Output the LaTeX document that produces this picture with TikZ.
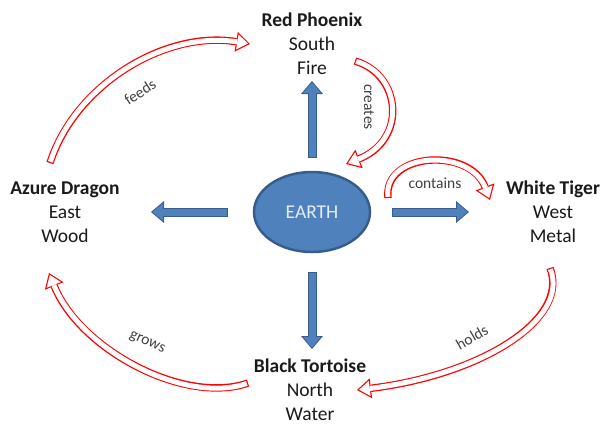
\documentclass[tikz,border=0pt]{standalone}
\usepackage{fontspec}
\setmainfont{Carlito}
\usetikzlibrary{arrows.meta,shapes.geometric}
\definecolor{earthfill}{HTML}{4F81BD}
\definecolor{earthline}{HTML}{385D8A}
\definecolor{txt}{HTML}{1A1A1A}
\definecolor{lbl}{HTML}{404040}
\definecolor{cyclered}{HTML}{FF0000}
\begin{document}
\begin{tikzpicture}[x=1pt,y=-1pt,
  big/.style={font=\fontsize{19.5}{24}\selectfont, text=txt, align=center, inner sep=0pt},
  lab/.style={font=\fontsize{15.5}{18}\selectfont, text=lbl, inner sep=0pt},
  earth/.style={ellipse, draw=earthline, line width=2.5pt, fill=earthfill, minimum width=116pt, minimum height=80pt, inner sep=0pt, text=white!85!earthfill, font=\fontsize{19.5}{24}\selectfont},
  blockarrow/.style={draw=earthfill, line width=7pt, shorten >=1.55pt, shorten <=1pt,
     -{Triangle[width=17.7pt,length=10.45pt,line width=0pt]},
     preaction={draw=earthline, line width=9pt, shorten >=0pt, shorten <=0pt,
     -{Triangle[width=22pt,length=13pt,line width=0pt]}}},
  cyclearrow/.style={draw=white, line width=5pt, shorten <=1.2pt, shorten >=2.1pt,
     -{Triangle[width=15.3pt,length=10.7pt,line width=0pt]},
     preaction={draw=cyclered, line width=7.4pt, shorten <=0pt, shorten >=0pt,
     -{Triangle[width=20pt,length=14pt,line width=0pt]}}}
]
\useasboundingbox (0,0) rectangle (606,424);

% nodes
\node[earth] (earth) at (312,212) {EARTH};
\node[big] (phoenix) at (312,44) {\textbf{Red Phoenix}\\South\\Fire};
\node[big] (dragon) at (65,212) {\textbf{Azure Dragon}\\East\\Wood};
\node[big] (tiger) at (553,212) {\textbf{White Tiger}\\West\\Metal};
\node[big] (tortoise) at (310,390) {\textbf{Black Tortoise}\\North\\Water};

% block arrows
\coordinate (upS) at (312,158);  \coordinate (upE) at (312,81);
\coordinate (lfS) at (228,212);  \coordinate (lfE) at (151,212);
\coordinate (rtS) at (392,212);  \coordinate (rtE) at (469,212);
\coordinate (dnS) at (312,272);  \coordinate (dnE) at (312,349);
\draw[blockarrow] (upS) -- (upE);
\draw[blockarrow] (lfS) -- (lfE);
\draw[blockarrow] (rtS) -- (rtE);
\draw[blockarrow] (dnS) -- (dnE);

% cycle arrows
\coordinate (feedsS) at (50,163);   \coordinate (feedsE) at (250,44);
\coordinate (createsS) at (355,61); \coordinate (createsE) at (346,164);
\coordinate (containsS) at (388,198); \coordinate (containsE) at (490,200);
\coordinate (holdsS) at (550,268);  \coordinate (holdsE) at (357,390);
\coordinate (growsS) at (248,383);  \coordinate (growsE) at (49,273);

\draw[cyclearrow] (feedsS) .. controls (75,85) and (165,30) .. (feedsE);
\draw[cyclearrow] (createsS) .. controls (402,75) and (407,140) .. (createsE);
\draw[cyclearrow] (containsS) .. controls (383,152) and (470,147) .. (containsE);
\draw[cyclearrow] (holdsS) .. controls (570,320) and (480,375) .. (holdsE);
\draw[cyclearrow] (growsS) .. controls (185,405) and (80,350) .. (growsE);

% labels
\node[lab, rotate=33] (lfeeds) at (140,92) {feeds};
\node[lab, rotate=-90] (lcreates) at (369,107) {creates};
\node[lab] (lcontains) at (435,183) {contains};
\node[lab, rotate=30] (lholds) at (472,337) {holds};
\node[lab, rotate=-25] (lgrows) at (147,343) {grows};
\end{tikzpicture}
\end{document}
